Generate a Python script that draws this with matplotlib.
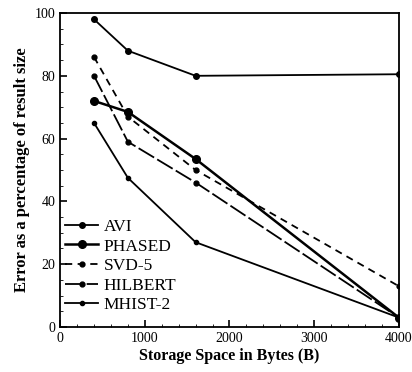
import matplotlib
matplotlib.use("Agg")
import matplotlib.pyplot as plt
from matplotlib.ticker import MultipleLocator

x = [400, 800, 1600, 4000]
avi = [98, 88, 80, 80.5]
phased = [72, 68.5, 53.5, 3]
svd5 = [86, 67, 50, 13]
hilbert = [80, 59, 46, 3]
mhist2 = [65, 47.5, 27, 3]

plt.rcParams['font.family'] = ['Liberation Serif', 'DejaVu Serif']

fig = plt.figure(figsize=(4.12, 3.72), dpi=100)
ax = fig.add_axes([0.146, 0.121, 0.822, 0.844])

ax.plot(x, avi, '-o', color='black', lw=1.3, ms=4, label='AVI')
ax.plot(x, phased, '-o', color='black', lw=1.8, ms=5.5, label='PHASED')
ax.plot(x, svd5, '--o', color='black', lw=1.3, ms=3.5, dashes=(4, 3), label='SVD-5')
ax.plot(x, hilbert, '-o', color='black', lw=1.3, ms=3.5, dashes=(10, 2), label='HILBERT')
ax.plot(x, mhist2, '-o', color='black', lw=1.3, ms=3, label='MHIST-2')

ax.set_xlim(0, 4000)
ax.set_ylim(0, 100)
ax.xaxis.set_major_locator(MultipleLocator(1000))
ax.yaxis.set_major_locator(MultipleLocator(20))
ax.xaxis.set_minor_locator(MultipleLocator(200))
ax.yaxis.set_minor_locator(MultipleLocator(5))
ax.tick_params(direction='in', which='both', labelsize=10)
ax.tick_params(which='major', length=5, width=1.2)
ax.tick_params(which='minor', length=2)
for s in ax.spines.values():
    s.set_linewidth(1.3)

ax.set_xlabel('Storage Space in Bytes (B)', fontsize=11.5, fontweight='bold', labelpad=2)
ax.set_ylabel('Error as a percentage of result size', fontsize=12, fontweight='bold', labelpad=3)

leg = ax.legend(loc='lower left', bbox_to_anchor=(-0.015, 0.01), frameon=False,
                fontsize=12.5, handlelength=1.9, handletextpad=0.3, labelspacing=0.2,
                borderaxespad=0.2)

fig.savefig('out.png', dpi=100)
